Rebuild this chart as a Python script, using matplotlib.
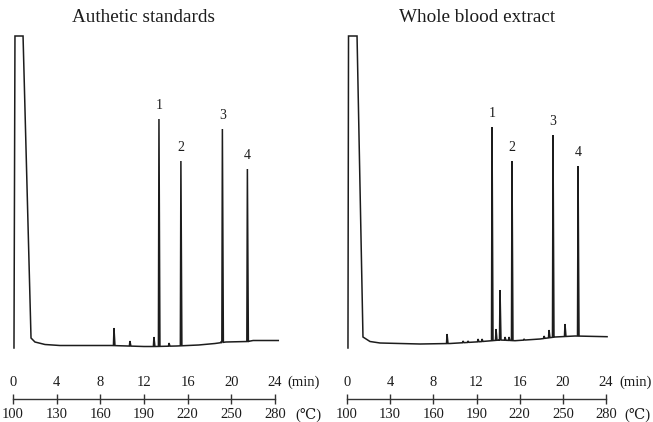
import numpy as np
import matplotlib
matplotlib.use("Agg")
import matplotlib.pyplot as plt

# ---------------- data ----------------
# time axis (min) and temperature programme (degC)
time_ticks = [0, 4, 8, 12, 16, 20, 24]
temp_labels = ["100", "130", "160", "190", "220", "250", "280"]
titles = ["Authetic standards", "Whole blood extract"]
peak_names = ["1", "2", "3", "4"]

# --- panel A: authentic standards ---
# solvent front (time min, signal)
a_solvent_t = [0.09, 0.18, 0.92, 1.65, 2.01, 2.93, 4.30]
a_solvent_s = [2, 314, 314, 12, 8, 5.5, 4.5]
# baseline
a_base_t = [4.30, 7.0, 9.0, 12.0, 13.0, 15.0, 17.0, 18.5, 19.5, 21.5, 22.0, 24.3]
a_base_s = [4.5, 4.5, 4.5, 3.5, 3.5, 4.0, 5.0, 6.5, 8.0, 8.5, 9.5, 9.5]
# peaks (retention time, apex signal)
a_peak_t = [9.25, 10.71, 12.91, 13.37, 14.29, 15.38, 19.05, 19.18, 21.47]
a_peak_s = [22, 9, 13, 231, 7, 189, 8, 221, 181]
a_named_t = [13.37, 15.38, 19.18, 21.47]
a_named_s = [231, 189, 221, 181]

# --- panel B: whole blood extract ---
b_solvent_t = [0.09, 0.14, 0.93, 1.48, 2.13, 3.06, 4.90]
b_solvent_s = [2, 314, 314, 13, 8.5, 7, 6.5]
b_base_t = [4.90, 6.77, 9.55, 12.33, 14.18, 15.57, 17.89, 19.28, 21.13, 24.1]
b_base_s = [6.5, 6.0, 6.5, 8.3, 10.0, 9.3, 11.0, 13.0, 14.0, 13.3]
b_peak_t = [9.27, 10.75, 11.21, 12.14, 12.51, 13.44, 13.81, 14.18, 14.64,
            15.01, 15.29, 16.4, 18.26, 18.72, 19.09, 20.2, 21.41]
b_peak_s = [16, 9, 9, 11, 11, 223, 21, 60, 13, 13, 189, 11, 14, 20, 215, 26, 184]
b_named_t = [13.44, 15.29, 19.09, 21.41]
b_named_s = [223, 189, 215, 184]

# ---------------- layout ----------------
W, H = 653, 422
fig = plt.figure(figsize=(W / 100, H / 100), dpi=100)
SERIF = ["Liberation Serif", "DejaVu Serif"]
MIXED = ["Liberation Serif", "DejaVu Serif", "Noto Sans CJK SC"]
INK = "#1c1c1c"


def fx(x):
    return x / W


def fy(y):
    return 1 - y / H


def build_trace(sol_t, sol_s, base_t, base_s, pk_t, pk_s):
    t = list(sol_t)
    s = list(sol_s)
    pts = sorted(zip(pk_t, pk_s))
    events = [(x, "b", y) for x, y in zip(base_t[1:], base_s[1:])] + \
             [(x, "p", y) for x, y in pts]
    events.sort(key=lambda e: e[0])
    for x, kind, y in events:
        if kind == "b":
            t.append(x)
            s.append(y)
        else:
            b0 = np.interp(x - 0.05, base_t, base_s)
            b1 = np.interp(x + 0.09, base_t, base_s)
            t += [x - 0.05, x, x + 0.09]
            s += [b0, y, b1]
    return t, s


def panel(x0, x1, title, title_x, sol_t, sol_s, base_t, base_s, pk_t, pk_s,
          named_t, named_s, min_off, deg_off):
    ax = fig.add_axes([fx(x0), fy(355), fx(x1) - fx(x0), (355 - 30) / H])
    t, s = build_trace(sol_t, sol_s, base_t, base_s, pk_t, pk_s)
    ax.plot(t, s, color=INK, lw=1.1, clip_on=False, solid_joinstyle="miter")
    ax.set_xlim(0, 24)
    ax.set_ylim(-5, 320)
    ax.axis("off")
    for name, xt, yt in zip(peak_names, named_t, named_s):
        ax.annotate(name, (xt, yt), xytext=(0, 5), textcoords="offset points",
                    ha="center", va="bottom", fontsize=10, family=SERIF,
                    color=INK)
    fig.text(fx(title_x), fy(18), title, ha="center", va="center",
             fontsize=13.8, family=SERIF, color=INK)

    # scale bar (time on top, temperature below)
    sc = fig.add_axes([fx(x0), fy(399), fx(x1) - fx(x0), 1e-4])
    sc.set_xlim(0, 24)
    sc.set_ylim(0, 1)
    for sp in ["top", "left", "right"]:
        sc.spines[sp].set_visible(False)
    sc.spines["bottom"].set_color("#333333")
    sc.spines["bottom"].set_linewidth(1.0)
    sc.set_yticks([])
    sc.set_xticks(time_ticks)
    sc.set_xticklabels(temp_labels, family=SERIF, fontsize=10.5, color=INK)
    sc.tick_params(axis="x", direction="inout", length=7, width=1.0,
                   color="#333333", pad=3, bottom=True, labelbottom=True,
                   top=False, labeltop=False)
    sc.patch.set_visible(False)
    for tt in time_ticks:
        sc.annotate(str(tt), (tt, 0), xytext=(0, 7), textcoords="offset points",
                    ha="center", va="bottom", fontsize=10.5, family=SERIF,
                    color=INK, annotation_clip=False)
    sc.annotate("(min)", (24, 0), xytext=(min_off, 7), textcoords="offset points",
                ha="left", va="bottom", fontsize=10.5, family=SERIF,
                color=INK, annotation_clip=False)
    sc.annotate("(℃)", (24, 0), xytext=(deg_off, -6.5), textcoords="offset points",
                ha="left", va="top", fontsize=10.5, family=MIXED,
                color=INK, annotation_clip=False)


panel(13, 275, titles[0], 143, a_solvent_t, a_solvent_s, a_base_t, a_base_s,
      a_peak_t, a_peak_s, a_named_t, a_named_s, 8.6, 14.4)
panel(347, 606, titles[1], 477, b_solvent_t, b_solvent_s, b_base_t, b_base_s,
      b_peak_t, b_peak_s, b_named_t, b_named_s, 9.3, 13.0)

fig.savefig("out.png", dpi=100, facecolor="white")
